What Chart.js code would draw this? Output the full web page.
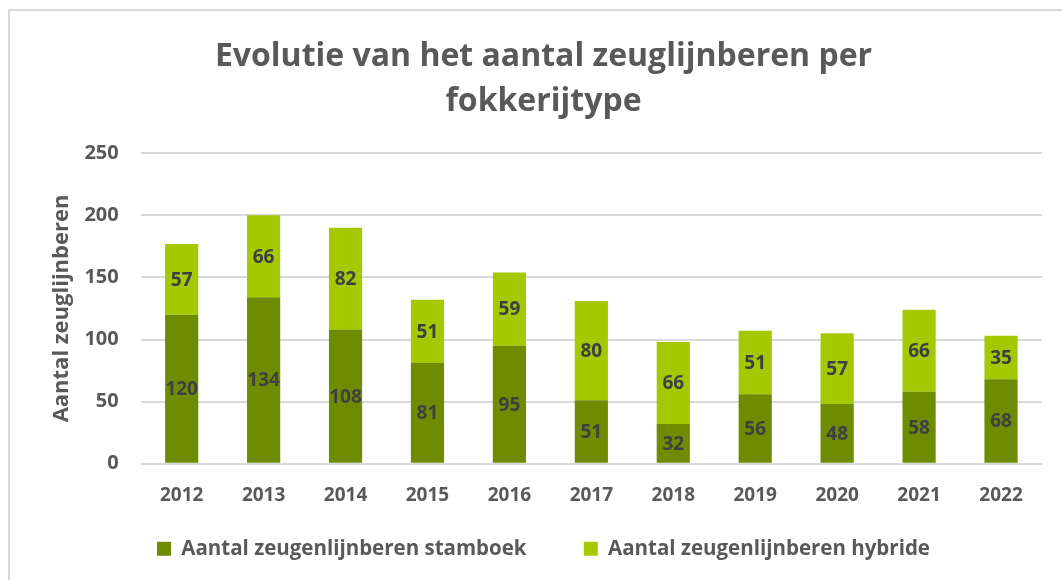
<!DOCTYPE html>
<html>
<head>
<meta charset="utf-8">
<script src="https://cdn.jsdelivr.net/npm/chart.js@4"></script>
<style>
html,body{margin:0;padding:0;background:#fff;overflow:hidden;}
#frame{position:absolute;left:8px;top:9px;width:1100px;height:620px;border:2px solid #d9d9d9;box-sizing:border-box;}
#wrap{position:absolute;left:0;top:0;width:1062px;height:580px;}
</style>
</head>
<body>
<div id="frame"></div>
<div id="wrap"><canvas id="c" width="1062" height="580"></canvas></div>
<script>
const categories = ['2012','2013','2014','2015','2016','2017','2018','2019','2020','2021','2022'];
const stamboek = [120,134,108,81,95,51,32,56,48,58,68];
const hybride = [57,66,82,51,59,80,66,51,57,66,35];
const yTicks = [0,50,100,150,200,250];
const titleLines = ['Evolutie van het aantal zeuglijnberen per','fokkerijtype'];
const yTitle = 'Aantal zeuglijnberen';
const seriesNames = ['Aantal zeugenlijnberen stamboek','Aantal zeugenlijnberen hybride'];

const FONT = '"Open Sans", sans-serif';
const TXT = '#595959';

const labelPlugin = {
  id: 'barLabels',
  afterDatasetsDraw(chart) {
    const ctx = chart.ctx;
    ctx.save();
    ctx.font = '700 19px ' + FONT;
    ctx.fillStyle = '#404040';
    ctx.textAlign = 'center';
    ctx.textBaseline = 'middle';
    chart.data.datasets.forEach((ds, di) => {
      const meta = chart.getDatasetMeta(di);
      meta.data.forEach((bar, i) => {
        const p = bar.getProps(['x','y','base'], true);
        ctx.fillText(String(ds.data[i]), p.x, (p.y + p.base) / 2 + 1);
      });
    });
    ctx.restore();
  }
};

new Chart(document.getElementById('c'), {
  type: 'bar',
  data: {
    labels: categories,
    datasets: [
      { label: seriesNames[0], data: stamboek, backgroundColor: '#6f8c00', categoryPercentage: 1, barPercentage: 0.405 },
      { label: seriesNames[1], data: hybride, backgroundColor: '#a4c900', categoryPercentage: 1, barPercentage: 0.405 }
    ]
  },
  options: {
    responsive: false,
    animation: false,
    layout: { padding: { left: 45, right: 20, top: 20, bottom: 11 } },
    plugins: {
      title: {
        display: true,
        text: titleLines,
        color: TXT,
        font: { family: FONT, size: 32, weight: '700', lineHeight: 1.41 },
        padding: { top: 14, bottom: 29 }
      },
      legend: {
        position: 'bottom',
        labels: {
          color: TXT,
          font: { family: FONT, size: 20.5, weight: '700' },
          boxWidth: 14, boxHeight: 14,
          padding: 20,
          generateLabels(chart) {
            const items = Chart.defaults.plugins.legend.labels.generateLabels(chart);
            items.forEach((it, i) => { if (i < items.length - 1) it.text = it.text + '       '; });
            return items;
          }
        }
      },
      tooltip: { enabled: false }
    },
    scales: {
      x: {
        stacked: true,
        grid: { display: false },
        border: { display: false },
        ticks: { color: TXT, font: { family: FONT, size: 19, weight: '700' }, padding: 12 }
      },
      y: {
        stacked: true,
        min: 0, max: 250,
        afterBuildTicks(axis) { axis.ticks = yTicks.map(v => ({ value: v })); },
        grid: { color: '#d9d9d9', lineWidth: 2, drawTicks: false },
        border: { display: false },
        ticks: { color: TXT, font: { family: FONT, size: 20, weight: '700' }, padding: 22 },
        title: { display: true, text: yTitle, color: TXT, font: { family: FONT, size: 22, weight: '700' }, padding: { top: 4, bottom: -13 } }
      }
    }
  },
  plugins: [labelPlugin]
});
</script>
</body>
</html>
